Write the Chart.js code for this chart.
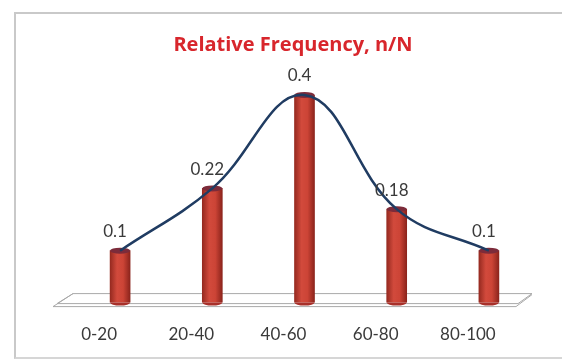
<!DOCTYPE html>
<html>
<head>
<meta charset="utf-8">
<script src="https://cdn.jsdelivr.net/npm/chart.js@4"></script>
<style>
    body { margin: 0; background: #fff; }
    #wrap { position: relative; width: 562px; height: 360px; }
    #frame {
        position: absolute; left: 14px; top: 12px; width: 560px; height: 343px;
        border-left: 2px solid #c9c9c9; border-top: 2px solid #c9c9c9; border-bottom: 2px solid #d6d6d6;
    }
    canvas { position: absolute; left: 0; top: 0; }
</style>
</head>
<body>
<div id="wrap">
    <div id="frame"></div>
    <canvas id="freq_chart" width="562" height="360"></canvas>
</div>
<script>
const categories = ['0-20', '20-40', '40-60', '60-80', '80-100'];
const relFreq = [0.1, 0.22, 0.4, 0.18, 0.1];
const chartTitle = 'Relative Frequency, n/N';

const BAR_W = 20;

// cylinder shading for each bar, built from the x scale
function barGradient(c) {
    const chart = c.chart;
    const xs = chart.scales.x;
    if (!chart.chartArea || !xs) return '#c0392b';
    const cx = xs.getPixelForValue(c.dataIndex);
    const g = chart.ctx.createLinearGradient(cx - BAR_W / 2, 0, cx + BAR_W / 2, 0);
    g.addColorStop(0, '#962a20');
    g.addColorStop(0.35, '#d24a3c');
    g.addColorStop(0.65, '#cc4436');
    g.addColorStop(1, '#8c241c');
    return g;
}

// 3d-ish floor under the bars
const floorPlugin = {
    id: 'floor',
    beforeDatasetsDraw(chart) {
        const ctx = chart.ctx;
        const xs = chart.scales.x;
        const y0 = chart.scales.y.getPixelForValue(0);
        ctx.save();
        ctx.strokeStyle = '#a9a9a9';
        ctx.lineWidth = 1;
        ctx.beginPath();
        ctx.moveTo(xs.left - 1, y0 - 9);
        ctx.lineTo(xs.right - 3, y0 - 9);
        ctx.lineTo(xs.right - 17, y0 + 1);
        ctx.lineTo(xs.left - 17, y0 + 1);
        ctx.closePath();
        ctx.stroke();
        ctx.beginPath();
        ctx.moveTo(xs.left - 21, y0 + 4);
        ctx.lineTo(xs.right - 19, y0 + 4);
        ctx.lineTo(xs.right - 3, y0 - 8);
        ctx.moveTo(xs.left - 21, y0 + 4);
        ctx.lineTo(xs.left - 1, y0 - 9);
        ctx.stroke();
        ctx.restore();
    }
};

// top caps on the cylinders, drawn before the curve
const capPlugin = {
    id: 'caps',
    afterDatasetDraw(chart, args) {
        if (args.meta.type !== 'bar') return;
        const ctx = chart.ctx;
        ctx.save();
        args.meta.data.forEach(el => {
            ctx.beginPath();
            ctx.ellipse(el.x, el.base, BAR_W / 2, 3, 0, 0, Math.PI);
            ctx.fillStyle = '#a8302a';
            ctx.fill();
            ctx.beginPath();
            ctx.ellipse(el.x, el.y, BAR_W / 2, 3, 0, 0, Math.PI * 2);
            ctx.fillStyle = '#7c2b3a';
            ctx.fill();
        });
        ctx.restore();
    }
};

const valueLabels = {
    id: 'valueLabels',
    afterDatasetsDraw(chart) {
        const meta = chart.getDatasetMeta(1);
        const ctx = chart.ctx;
        ctx.save();
        ctx.font = '17px Lato';
        ctx.fillStyle = '#3a3a3a';
        ctx.textAlign = 'center';
        ctx.textBaseline = 'middle';
        meta.data.forEach((el, i) => {
            ctx.fillText(String(relFreq[i]), el.x - 5, el.y - 19);
        });
        ctx.restore();
    }
};

const ctx = document.getElementById('freq_chart').getContext('2d');

new Chart(ctx, {
    data: {
        labels: categories,
        datasets: [{
            type: 'line',
            data: relFreq,
            borderColor: '#203c62',
            borderWidth: 2.5,
            pointRadius: 0,
            tension: 0.4,
            fill: false
        }, {
            type: 'bar',
            data: relFreq,
            backgroundColor: barGradient,
            barThickness: BAR_W,
            borderWidth: 0
        }]
    },
    options: {
        responsive: false,
        animation: false,
        layout: {
            padding: { left: 51, right: 27, top: 33, bottom: -7 }
        },
        scales: {
            x: {
                grid: { display: false, drawTicks: false },
                border: { display: false },
                ticks: {
                    padding: 22,
                    labelOffset: -21,
                    color: '#3a3a3a',
                    font: { family: 'Lato', size: 17 }
                }
            },
            y: {
                min: 0,
                max: 0.45,
                grid: { display: false, drawTicks: false },
                border: { display: false },
                ticks: { display: false },
                afterFit: scale => { scale.width = 23; }
            }
        },
        plugins: {
            legend: { display: false },
            tooltip: { enabled: false },
            title: {
                display: true,
                text: chartTitle,
                color: '#d8262c',
                font: { family: 'Open Sans', size: 20, weight: 'bold' },
                padding: { top: 0, bottom: 12 }
            }
        }
    },
    plugins: [floorPlugin, capPlugin, valueLabels]
});
</script>
</body>
</html>
